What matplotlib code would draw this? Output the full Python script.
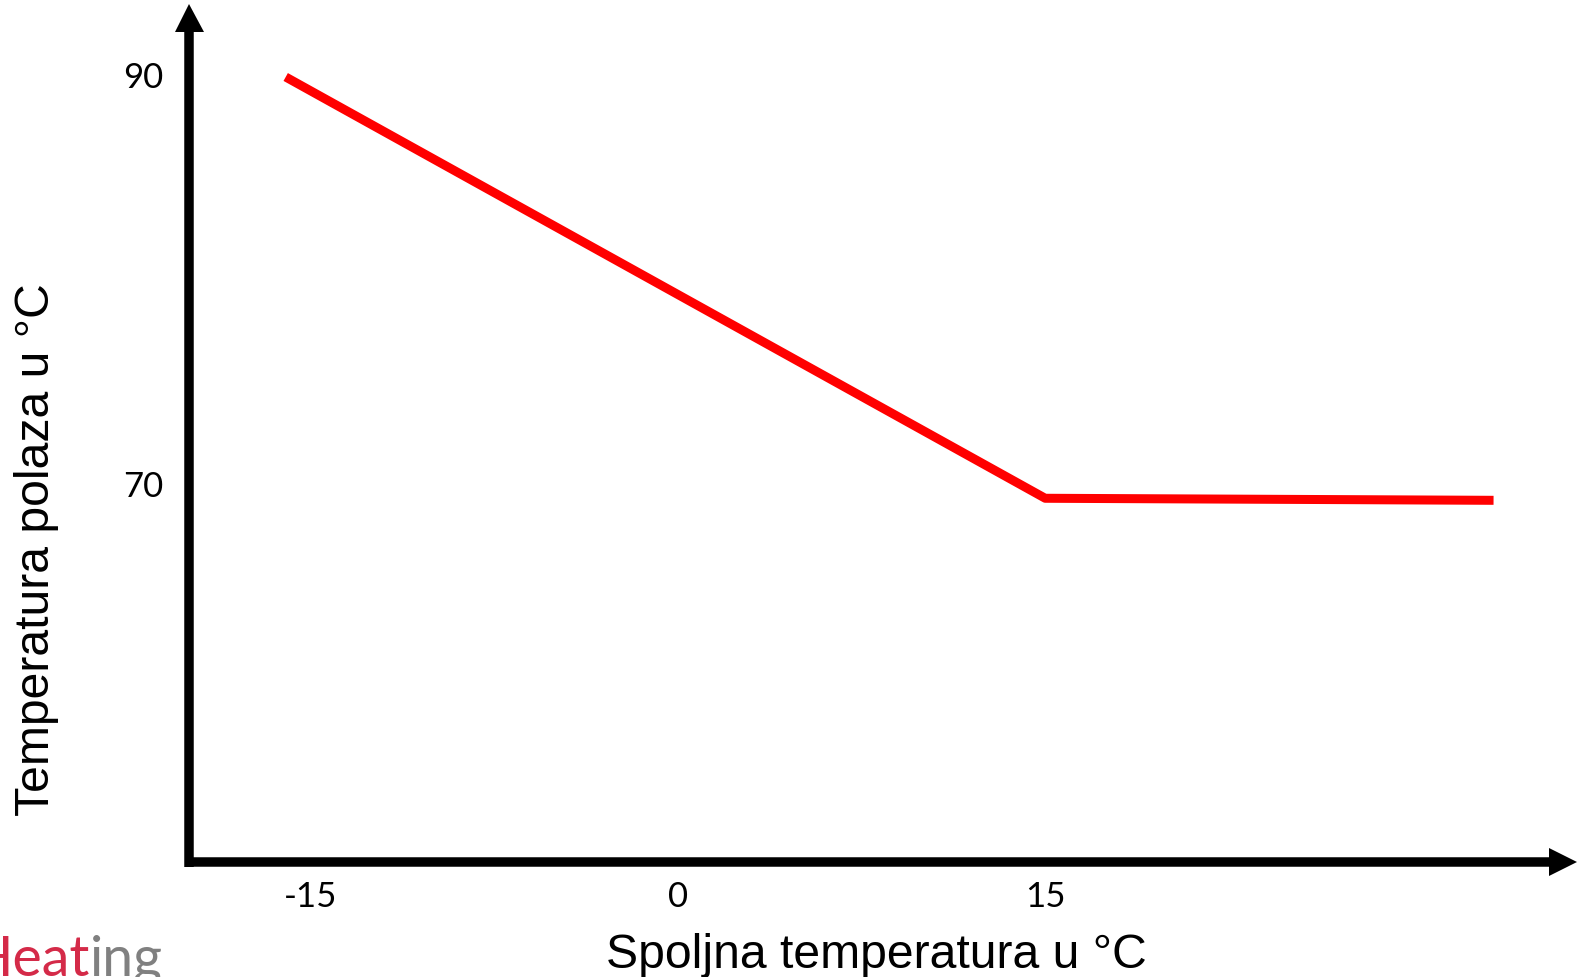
import matplotlib
matplotlib.use("Agg")
import matplotlib.pyplot as plt

# heating curve
outdoor_temp = [-16.0, 15.0, 33.3]
supply_temp = [90.0, 69.4, 69.3]

x_ticks = [-15, 0, 15]
y_ticks = [90, 70]
x_label = "Spoljna temperatura u °C"
y_label = "Temperatura polaza u °C"

W, H, DPI = 1583, 978, 100

# pixel <-> data mapping (axes fill the whole figure)
x0_px, x_scale = 677.7, 24.5      # px of x=0, px per unit
y90_px, y_scale = 78.0, 20.45     # px (from top) of y=90, px per unit


def px2x(px):
    return (px - x0_px) / x_scale


def px2y(py):
    return 90 - (py - y90_px) / y_scale


fig = plt.figure(figsize=(W / DPI, H / DPI), dpi=DPI)
ax = fig.add_axes([0, 0, 1, 1])
ax.set_xlim(px2x(0), px2x(W))
ax.set_ylim(px2y(H), px2y(0))
ax.axis("off")

# axes drawn as thick arrows
lw_px = 9.5
lw = lw_px * 72 / DPI
ax_x = px2x(189)
ax_y = px2y(863)
ax.plot([ax_x, ax_x], [ax_y - 0.25, px2y(32)], color="black", lw=lw, solid_capstyle="butt")
ax.plot([px2x(185), px2x(1550)], [ax_y, ax_y], color="black", lw=lw, solid_capstyle="butt")
# arrow heads
ax.fill([px2x(175), px2x(204), ax_x], [px2y(33), px2y(33), px2y(5)], color="black", lw=0)
ax.fill([px2x(1549), px2x(1549), px2x(1577)], [px2y(849), px2y(877), ax_y], color="black", lw=0)

ax.plot(outdoor_temp, supply_temp, color="#ff0000", lw=9 * 72 / DPI, solid_capstyle="butt")

tick_font = dict(family=["Lato", "DejaVu Sans"], size=25, color="black")
for t in x_ticks:
    ax.text(t, px2y(897), str(t), ha="center", va="center", **tick_font)
for t in y_ticks:
    ax.text(px2x(143), t, str(t), ha="center", va="center", **tick_font)

lab_font = dict(family=["Liberation Sans", "DejaVu Sans"], size=34.7, color="black")
ax.text(px2x(876), px2y(956), x_label, ha="center", va="center", **lab_font)
ax.text(px2x(37), px2y(550), y_label, ha="center", va="center", rotation=90, **lab_font)

# partial logo in lower-left corner, cut by the image edge
logo_font = dict(family=["Lato", "DejaVu Sans"], size=40, va="baseline")
ing = ax.text(px2x(163), px2y(976), "ing", ha="right", color="#808080", **logo_font)
fig.canvas.draw()
bb = ing.get_window_extent()
ax.text(px2x(bb.x0), px2y(976), "Heat", ha="right", color="#d42a48", **logo_font)

fig.savefig("out.png", dpi=DPI)
